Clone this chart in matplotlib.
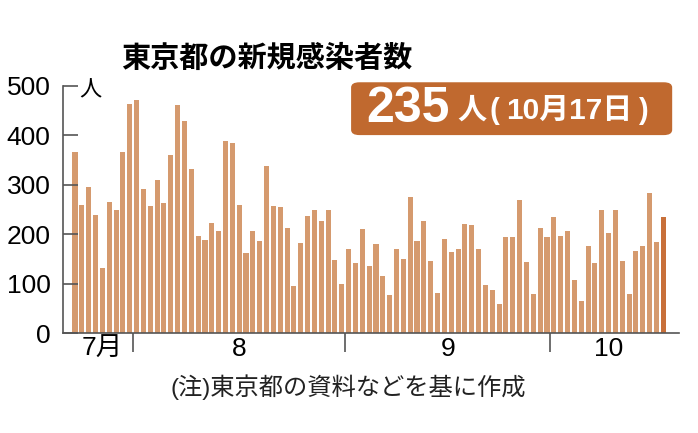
import numpy as np
import matplotlib
matplotlib.use("Agg")
import matplotlib.pyplot as plt
from matplotlib.patches import FancyBboxPatch

plt.rcParams["font.family"] = ["Liberation Sans", "Noto Sans CJK JP"]

BAR = "#d59a6e"
LAST = "#c8703a"
BOX = "#c0692f"
AXC = "#555555"

# daily new cases, Jul 23 -> Oct 17
cases = [366, 260, 295, 239, 131, 266, 250, 367, 463,            # Jul 23-31
         472, 292, 258, 309, 263, 360, 462, 429, 331, 197,       # Aug
         188, 222, 206, 389, 385, 260, 161, 207, 186, 339,
         258, 256, 212, 95, 182, 236, 250, 226, 248, 148, 100,
         170, 141, 211, 136, 181, 116, 77, 170, 149, 276,        # Sep
         187, 226, 146, 80, 191, 163, 171, 220, 218, 170,
         98, 88, 59, 195, 195, 270, 144, 78, 212, 194,
         235, 196, 207, 108, 65, 177, 142, 249, 203, 248,        # Oct 1-17
         146, 78, 166, 177, 284, 185, 235]
month_days = [9, 31, 30, 17]
month_labels = ["7月", "8", "9", "10"]
yticks = [0, 100, 200, 300, 400, 500]

x = np.arange(len(cases))
colors = [BAR] * (len(cases) - 1) + [LAST]

W, H = 698, 433
fig = plt.figure(figsize=(W / 100, H / 100), dpi=100)
ax = fig.add_axes([0.0903, 0.2309, 0.8825, 0.5705])
ax.bar(x, cases, width=0.74, color=colors, edgecolor="none")

ax.set_ylim(0, 500)
ax.set_xlim(-1.75, 88.3)
ax.set_yticks(yticks)
ax.tick_params(axis="y", direction="in", length=11, width=1.2, color=AXC,
               labelsize=19, pad=9)

bounds = np.cumsum(month_days)[:-1] - 0.5
starts = np.concatenate(([-0.5], bounds))
ends = np.concatenate((bounds, [len(cases) - 0.5]))
ax.set_xticks(bounds)
ax.set_xticklabels([""] * len(bounds))
ax.tick_params(axis="x", which="major", direction="out", length=14, width=1.2,
               color=AXC)
ax.set_xticks((starts + ends) / 2, minor=True)
ax.set_xticklabels(month_labels, minor=True)
ax.tick_params(axis="x", which="minor", length=0, labelsize=19, pad=3)

for s in ["top", "right"]:
    ax.spines[s].set_visible(False)
for s in ["left", "bottom"]:
    ax.spines[s].set_color(AXC)
    ax.spines[s].set_linewidth(1.2)

fig.text(0.114, 0.79, "人", fontsize=16, va="center", ha="left")

fig.text(0.382, 0.867, "東京都の新規感染者数", fontsize=21, fontweight="bold",
         ha="center", va="center", family="Noto Sans CJK JP")

# highlight box with the latest figure
box = FancyBboxPatch((0.503, 0.688), 0.46, 0.122,
                     boxstyle="round,pad=0,rounding_size=0.012",
                     transform=fig.transFigure, fc=BOX, ec="none")
fig.patches.append(box)
fig.text(0.524, 0.749, "235", fontsize=36, fontweight="bold", color="white",
         ha="left", va="center")

ty = (H - 111) / H
kw = dict(fontweight="bold", color="white", va="center")
fig.text(472 / W, ty, "人", fontsize=21, ha="center", **kw)
fig.text(494 / W, ty, "(", fontsize=21, ha="center", **kw)
fig.text(506 / W, ty, "10月17日", fontsize=21.5, ha="left", **kw)
fig.text(643 / W, ty, ")", fontsize=21, ha="center", **kw)

fig.text(0.499, 0.105, "(注)東京都の資料などを基に作成", fontsize=17.5,
         ha="center", va="center", color="#222222")

fig.savefig("out.png", dpi=100)
